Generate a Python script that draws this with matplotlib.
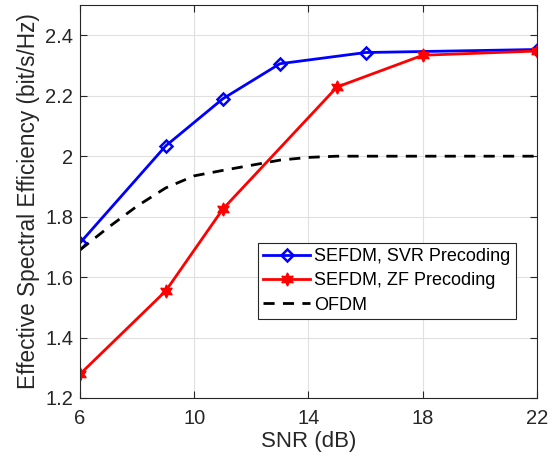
import matplotlib
matplotlib.use("Agg")
import matplotlib.pyplot as plt

plt.rcParams['font.family'] = ['Liberation Sans', 'DejaVu Sans']

snr_svr = [6, 9, 11, 13, 16, 22]
eff_svr = [1.713, 2.034, 2.190, 2.306, 2.343, 2.353]

snr_zf = [6, 9, 11, 15, 18, 22]
eff_zf = [1.279, 1.554, 1.825, 2.229, 2.334, 2.348]

snr_ofdm = [6, 7, 8, 9, 10, 11, 12, 13, 14, 15, 16, 17, 18, 19, 20, 21, 22]
eff_ofdm = [1.690, 1.765, 1.835, 1.895, 1.935, 1.953, 1.970, 1.987, 1.996, 2.0,
            2.0, 2.0, 2.0, 2.0, 2.0, 2.0, 2.0]

xticks = [6, 10, 14, 18, 22]
yticks = [1.2, 1.4, 1.6, 1.8, 2.0, 2.2, 2.4]
yticklabels = ['1.2', '1.4', '1.6', '1.8', '2', '2.2', '2.4']

fig = plt.figure(figsize=(5.53, 4.61), dpi=100)
ax = fig.add_axes([0.1447, 0.1367, 0.8263, 0.8523])

ax.plot(snr_svr, eff_svr, color='#0000ff', lw=2, marker='D', ms=6.5,
        mfc='none', mec='#0000ff', mew=1.8, label='SEFDM, SVR Precoding')
ax.plot(snr_zf, eff_zf, color='#ff0000', lw=2, marker=(6, 1, 0), ms=9.5,
        mfc='#ff0000', mec='#ff0000', label='SEFDM, ZF Precoding')
ax.plot(snr_ofdm, eff_ofdm, color='black', lw=2, ls=(0, (4, 3)), label='OFDM')

ax.set_xlim(6, 22)
ax.set_ylim(1.2, 2.5)
ax.set_xticks(xticks)
ax.set_yticks(yticks)
ax.set_yticklabels(yticklabels)
ax.grid(True, color='#e0e0e0', lw=0.8)
ax.set_axisbelow(True)
ax.tick_params(direction='in', labelsize=14.5, colors='#262626', length=5,
               top=True, right=True)
ax.tick_params(axis='y', pad=5)
ax.tick_params(axis='x', pad=8)
for s in ax.spines.values():
    s.set_color('#262626')
    s.set_linewidth(0.8)

ax.set_xlabel('SNR (dB)', fontsize=16, color='#262626', labelpad=2)
ax.set_ylabel('Effective Spectral Efficiency (bit/s/Hz)', fontsize=16.3,
              color='#262626', labelpad=4)

leg = ax.legend(loc='lower left', bbox_to_anchor=(0.3895, 0.201), fontsize=13,
                fancybox=False, framealpha=1, edgecolor='#262626',
                borderpad=0.3, labelspacing=0.4, handlelength=2.6,
                handletextpad=0.2, borderaxespad=0)
leg.get_frame().set_linewidth(0.8)

fig.savefig('out.png', dpi=100)
